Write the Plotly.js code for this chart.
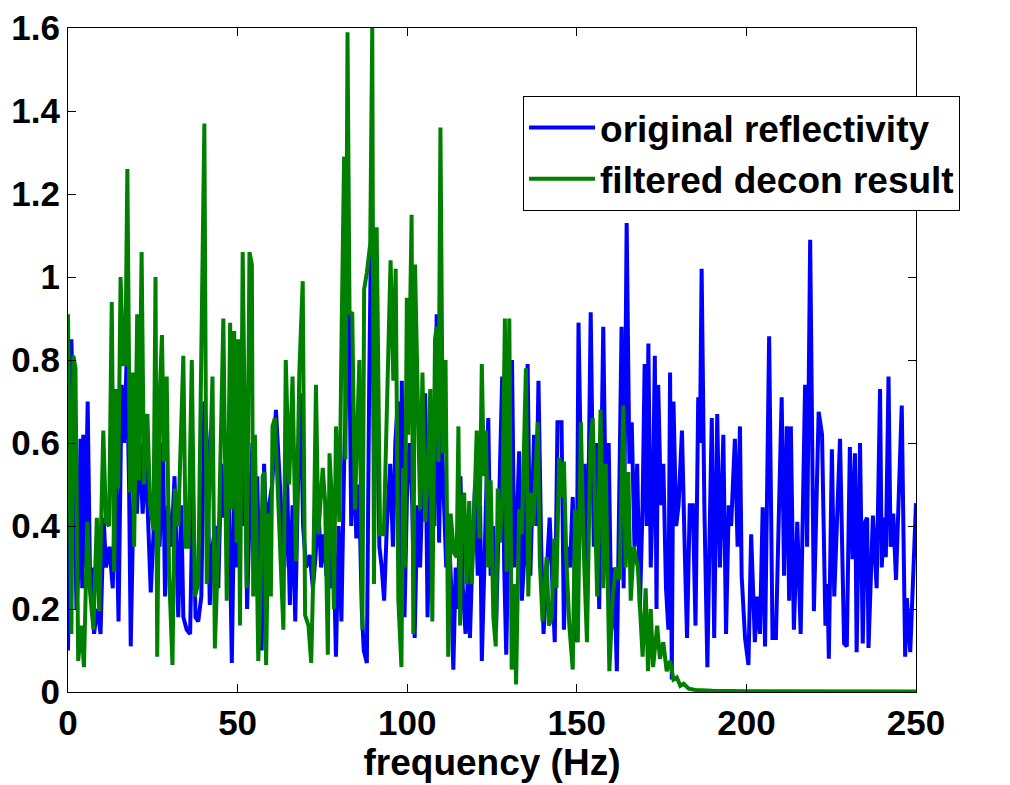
<!DOCTYPE html>
<html>
<head>
<meta charset="utf-8">
<script src="https://cdn.plot.ly/plotly-3.0.1.min.js"></script>
<style>html,body{margin:0;padding:0;background:#fff;}#chart{width:1010px;height:785px;}</style>
</head>
<body>
<div id="chart"></div>
<script>
var blueFreq = [0.0,1.0,1.8,2.5,3.0,3.7,4.2,4.5,5.0,5.8,6.5,7.2,7.7,8.5,9.0,9.6,10.5,11.2,12.2,13.2,14.0,14.9,15.8,16.5,17.3,18.0,18.5,19.5,20.3,21.2,22.0,23.0,24.4,25.3,26.2,27.0,28.0,28.6,29.5,30.5,31.4,32.5,33.4,34.0,35.0,36.0,36.8,37.6,38.4,39.3,40.2,41.0,41.8,42.6,43.5,44.3,45.2,46.0,46.6,47.5,48.3,49.0,49.8,50.5,51.3,52.0,52.8,53.6,54.4,55.2,55.8,56.5,57.1,57.8,58.6,59.3,60.2,61.3,62.2,63.0,63.8,64.5,65.4,66.2,67.0,67.8,68.6,69.3,70.2,71.3,72.2,73.0,73.8,74.6,75.4,76.2,77.0,77.8,78.4,79.0,79.8,80.6,81.4,82.8,83.5,84.2,85.0,85.8,86.6,87.2,88.1,88.8,89.5,90.2,91.0,91.8,92.5,93.2,94.0,95.0,95.8,96.5,97.2,98.0,98.4,99.2,100.0,100.7,101.5,102.2,103.0,103.8,104.6,105.3,106.0,106.8,107.5,108.0,108.7,109.4,110.0,110.8,111.5,112.3,113.0,113.6,114.3,115.0,115.7,116.4,117.2,118.0,118.5,119.3,120.0,120.8,121.5,122.0,122.8,123.9,124.6,125.3,126.2,127.0,128.0,128.6,129.2,130.0,130.9,131.6,132.3,133.0,133.8,134.5,135.5,136.3,137.4,138.0,138.7,139.5,140.2,141.2,142.0,142.8,143.5,144.3,145.5,146.2,147.0,148.0,148.8,149.9,150.5,151.5,152.3,153.0,154.1,155.0,155.8,156.6,157.8,158.6,159.4,160.2,161.0,161.8,162.5,163.2,163.8,164.7,165.5,166.2,167.0,167.8,168.6,169.4,170.0,170.6,171.1,171.8,172.5,173.0,173.5,174.0,174.8,175.5,176.3,177.0,177.5,178.0,178.5,179.3,180.0,181.0,181.8,182.5,183.3,184.2,185.0,185.8,186.3,186.8,187.6,188.5,189.2,189.8,190.5,191.4,192.2,193.2,194.0,194.8,195.5,196.6,197.4,198.1,198.6,199.6,200.6,201.4,202.5,203.2,204.0,204.8,205.5,206.7,207.7,208.7,209.4,210.4,211.1,211.9,212.6,213.1,214.0,215.0,216.0,217.3,217.9,218.8,219.9,221.3,222.3,223.3,223.9,224.3,225.2,225.9,227.6,228.8,229.6,230.5,231.3,232.0,232.5,233.5,234.3,235.0,235.6,236.0,237.3,238.4,239.4,239.9,240.6,241.1,241.9,242.5,243.3,244.1,245.8,246.8,247.3,248.3,250.0];
var blueVals = [0.10,0.85,0.55,0.20,0.28,0.61,0.25,0.62,0.30,0.70,0.27,0.30,0.14,0.20,0.18,0.14,0.42,0.30,0.35,0.25,0.55,0.17,0.74,0.60,0.80,0.50,0.11,0.55,0.43,0.60,0.43,0.55,0.24,0.39,0.55,0.35,0.60,0.23,0.45,0.35,0.52,0.18,0.45,0.18,0.15,0.14,0.50,0.18,0.17,0.23,0.70,0.60,0.21,0.35,0.40,0.25,0.55,0.42,0.54,0.47,0.07,0.47,0.30,0.55,0.40,0.70,0.20,0.45,0.60,0.40,0.52,0.20,0.10,0.55,0.35,0.45,0.50,0.68,0.55,0.45,0.30,0.55,0.21,0.45,0.17,0.50,0.72,0.40,0.30,0.33,0.25,0.33,0.45,0.30,0.38,0.28,0.38,0.25,0.30,0.085,0.40,0.17,0.55,0.95,0.40,0.60,0.37,0.50,0.20,0.10,0.07,0.75,1.20,0.58,0.78,0.35,0.30,0.22,0.40,0.55,0.35,0.60,0.70,0.15,0.75,0.18,0.50,0.60,0.45,0.13,0.45,0.30,0.55,0.72,0.18,0.50,0.45,0.40,0.91,0.36,0.66,0.45,0.30,0.38,0.25,0.054,0.30,0.20,0.52,0.25,0.14,0.30,0.13,0.35,0.50,0.28,0.45,0.075,0.35,0.66,0.28,0.40,0.15,0.40,0.76,0.30,0.09,0.45,0.80,0.30,0.40,0.58,0.22,0.32,0.79,0.28,0.62,0.40,0.75,0.35,0.14,0.30,0.42,0.26,0.12,0.65,0.65,0.15,0.35,0.30,0.47,0.12,0.89,0.40,0.55,0.20,0.915,0.35,0.60,0.20,0.88,0.40,0.60,0.15,0.30,0.05,0.45,0.88,0.25,1.13,0.55,0.65,0.35,0.55,0.20,0.45,0.79,0.40,0.84,0.30,0.50,0.81,0.20,0.74,0.45,0.55,0.25,0.15,0.77,0.03,0.70,0.40,0.45,0.63,0.35,0.13,0.45,0.45,0.16,0.71,0.60,1.02,0.45,0.06,0.40,0.66,0.13,0.67,0.30,0.62,0.14,0.45,0.40,0.61,0.35,0.64,0.28,0.13,0.065,0.38,0.12,0.23,0.14,0.445,0.11,0.857,0.13,0.13,0.37,0.71,0.28,0.64,0.22,0.64,0.15,0.41,0.14,0.74,0.35,1.09,0.195,0.675,0.62,0.16,0.26,0.08,0.585,0.23,0.61,0.117,0.11,0.59,0.32,0.575,0.096,0.60,0.117,0.41,0.42,0.106,0.425,0.25,0.73,0.30,0.42,0.325,0.76,0.35,0.43,0.27,0.69,0.085,0.226,0.096,0.455];

var greenFreq = [0.0,1.0,1.6,2.2,3.0,4.0,4.7,5.7,6.5,7.5,8.5,9.2,10.4,11.2,12.1,12.9,13.6,14.1,14.8,15.5,16.3,16.9,17.5,18.3,19.0,19.5,20.4,20.9,21.7,22.4,23.4,24.2,25.2,25.8,26.3,27.1,27.7,28.3,29.1,29.8,30.8,31.5,32.5,34.0,34.7,35.5,36.5,37.4,38.4,39.4,40.2,40.9,41.8,42.6,43.3,44.6,45.8,46.8,47.8,48.3,49.0,49.7,50.2,50.7,51.5,52.2,52.7,53.5,54.2,54.6,55.1,56.1,56.6,57.4,57.9,58.4,59.1,59.8,60.3,61.0,62.0,63.5,64.2,65.2,66.2,67.2,68.2,69.2,69.9,70.9,71.7,72.3,73.1,73.8,75.1,75.8,76.6,77.1,77.8,78.4,79.0,80.0,80.7,81.4,81.8,82.4,83.0,83.8,84.6,85.9,86.8,87.3,88.1,89.1,89.7,90.2,91.0,92.0,93.1,94.2,95.1,95.9,96.6,97.4,98.3,98.8,99.3,99.9,100.3,101.3,101.8,102.3,103.0,103.8,104.5,105.3,106.0,106.8,107.4,108.2,108.7,109.2,109.8,110.5,111.3,112.1,112.8,113.8,114.6,115.1,115.6,116.0,116.8,117.5,118.3,119.0,119.7,120.5,121.3,122.0,122.6,123.2,123.9,124.6,125.4,126.1,126.7,127.3,128.1,128.8,129.3,130.1,130.8,131.5,132.1,133.0,133.8,135.0,135.7,136.4,137.2,138.5,139.1,139.9,141.1,141.8,142.6,143.4,144.0,144.8,145.5,146.2,146.9,147.8,148.8,149.5,150.3,151.2,152.0,153.0,154.0,154.7,155.5,156.0,157.0,157.8,158.5,159.6,160.6,161.5,162.6,163.7,164.4,165.2,165.9,166.8,168.0,169.4,170.3,171.0,171.8,172.5,173.7,174.5,175.5,176.5,177.5,178.5,179.5,180.5,181.5,183.0,185.0,190.0,200.0,220.0,250.0];
var greenVals = [0.91,0.14,0.81,0.78,0.075,0.16,0.06,0.41,0.24,0.15,0.42,0.195,0.63,0.41,0.40,0.94,0.29,0.73,0.49,1.00,0.79,0.79,1.26,0.48,0.77,0.35,0.91,0.51,1.06,0.50,0.67,0.45,0.39,1.00,0.085,0.73,0.86,0.555,0.76,0.29,0.065,0.49,0.40,0.81,0.35,0.35,0.80,0.23,0.26,0.95,1.37,0.26,0.50,0.76,0.105,0.43,0.90,0.22,0.89,0.44,0.87,0.36,0.85,0.16,1.06,0.47,0.25,1.06,1.03,0.23,0.62,0.075,0.20,0.52,0.53,0.065,0.43,0.23,0.64,0.66,0.47,0.15,0.80,0.50,0.76,0.315,0.77,0.99,0.185,0.16,0.07,0.28,0.74,0.38,0.54,0.46,0.09,0.575,0.46,0.20,0.64,0.41,0.89,1.29,0.56,1.59,0.91,0.915,0.44,0.80,0.15,0.97,1.01,1.08,1.60,0.26,1.12,0.38,0.38,0.72,1.04,0.75,1.02,0.22,0.06,0.54,0.30,0.95,0.62,1.15,0.14,1.03,0.77,0.44,0.77,0.41,0.52,0.73,0.17,0.85,0.88,0.555,1.36,0.575,0.80,0.085,0.43,0.335,0.325,0.64,0.16,0.45,0.48,0.26,0.46,0.26,0.42,0.63,0.37,0.79,0.52,0.63,0.30,0.51,0.18,0.11,0.49,0.36,0.47,0.90,0.29,0.90,0.054,0.26,0.018,0.44,0.38,0.78,0.23,0.48,0.40,0.65,0.315,0.17,0.325,0.16,0.18,0.37,0.25,0.565,0.47,0.555,0.325,0.16,0.054,0.44,0.12,0.65,0.35,0.12,0.60,0.66,0.40,0.23,0.68,0.25,0.55,0.05,0.23,0.30,0.27,0.69,0.30,0.53,0.22,0.35,0.30,0.085,0.25,0.05,0.20,0.06,0.16,0.08,0.12,0.05,0.075,0.03,0.035,0.015,0.02,0.008,0.005,0.003,0.002,0.001,0.001];

var seriesNames = ["original reflectivity", "filtered decon result"];
var xTickVals = [0, 50, 100, 150, 200, 250];
var yTickVals = [0, 0.2, 0.4, 0.6, 0.8, 1, 1.2, 1.4, 1.6];
var yTickText = ["0", "0.2", "0.4", "0.6", "0.8", "1", "1.2", "1.4", "1.6"];

var fontFam = "Liberation Sans, Arial, Helvetica, sans-serif";

var traces = [
  {x: blueFreq, y: blueVals, type: "scatter", mode: "lines", name: seriesNames[0],
   line: {color: "#0000ff", width: 4}},
  {x: greenFreq, y: greenVals, type: "scatter", mode: "lines", name: seriesNames[1],
   line: {color: "#008000", width: 4}}
];

var axisCommon = {
  showline: true, linecolor: "#000", linewidth: 1, mirror: "ticks",
  ticks: "inside", ticklen: 8, tickcolor: "#000", tickwidth: 1,
  showgrid: false, zeroline: false,
  tickfont: {family: fontFam, size: 35, color: "#000", weight: "bold"}
};

var layout = {
  width: 1010, height: 785,
  margin: {l: 68, r: 94, t: 28, b: 93},
  paper_bgcolor: "#fff", plot_bgcolor: "#fff",
  showlegend: true,
  xaxis: Object.assign({}, axisCommon, {
    range: [0, 250], tickvals: xTickVals, autorange: false,
    title: {text: "frequency (Hz)", standoff: 0, font: {family: fontFam, size: 37, color: "#000", weight: "bold"}}
  }),
  yaxis: Object.assign({}, axisCommon, {
    range: [0, 1.6], tickvals: yTickVals, ticktext: yTickText, autorange: false
  }),
  legend: {
    x: 0.5366, y: 0.8976, xanchor: "left", yanchor: "top",
    bgcolor: "#fff", bordercolor: "#000", borderwidth: 1,
    font: {family: fontFam, size: 37, color: "#000", weight: "bold"},
    itemwidth: 66, tracegroupgap: 0
  }
};

Plotly.newPlot("chart", traces, layout, {displayModeBar: false, staticPlot: true});
</script>
</body>
</html>
